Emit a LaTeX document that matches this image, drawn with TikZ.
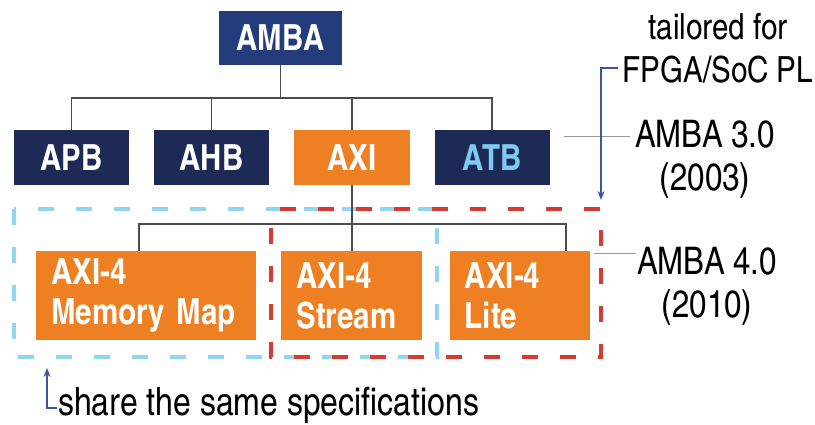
\documentclass[tikz,border=0pt]{standalone}
\usepackage{fontspec}
\setmainfont{texgyreheroscn}[Extension=.otf, UprightFont=*-regular, BoldFont=*-bold]
\usetikzlibrary{positioning, arrows.meta}

\definecolor{ambanavy}{HTML}{243B7C}
\definecolor{busnavy}{HTML}{1E2A56}
\definecolor{axiorange}{HTML}{EE7F22}
\definecolor{atbblue}{HTML}{7FCBEF}
\definecolor{specred}{HTML}{D93A2F}
\definecolor{speccyan}{HTML}{92D5F2}
\definecolor{notearrow}{HTML}{3A56A5}

\newcommand\subboxfont{\fontsize{36}{40}\selectfont\bfseries\spaceskip 0.22em\relax}

\begin{document}
\begin{tikzpicture}[x=1pt, y=-1pt, node distance=24pt and 24.5pt]
	% ----- Styles -----
	\tikzset{
		busbox/.style={
			rectangle, inner sep=0pt, text=white,
			minimum width=115pt, minimum height=55pt,
			font=\fontsize{36}{40}\selectfont\bfseries
		},
		rootbox/.style={busbox, fill=ambanavy, minimum width=123pt, minimum height=54pt},
		navybox/.style={busbox, fill=busnavy},
		axibox/.style={busbox, fill=axiorange, minimum width=116pt},
		subbox/.style={
			rectangle, inner xsep=15pt, inner ysep=0pt, fill=axiorange, text=white,
			minimum height=89pt, align=left, font=\subboxfont
		},
		note/.style={align=center, inner sep=0pt, font=\fontsize{38}{43}\selectfont},
		link/.style={draw=black!70, line width=1.6pt},
		guide/.style={draw=black!40, line width=1pt},
		pointer/.style={draw=notearrow, line width=2pt, -{Stealth[length=9pt, width=7pt]}},
		cyandash/.style={draw=speccyan, line width=3.5pt, dash pattern=on 16pt off 22pt},
		reddash/.style={draw=specred, line width=3.5pt, dash pattern=on 16pt off 22pt, dash phase=19pt}
	}
	\useasboundingbox (0,0) rectangle (815,424);

	% ----- Frames -----
	\coordinate (cyanNW) at (14,209);
	\coordinate (cyanSE) at (437,357);
	\coordinate (redNW)  at (271,209);
	\coordinate (redSE)  at (601,357);
	\draw[cyandash] (cyanNW) rectangle (cyanSE);
	\draw[reddash]  (redNW) rectangle (redSE);

	% ----- Nodes -----
	\node (amba) [rootbox] at (280.5,38) {AMBA};
	\node (apb)  [navybox] at (71.5,157.5) {APB};
	\node (ahb)  [navybox, right=of apb] {AHB};
	\node (axi)  [axibox, right=of ahb] {AXI};
	\node (atb)  [navybox, right=of axi, text=atbblue] {ATB};

	\node (mm)     [subbox, text width=190pt] at (146,295.5) {AXI-4\\Memory Map};
	\node (stream) [subbox, text width=111pt, right=25pt of mm] {AXI-4\\Stream};
	\node (lite)   [subbox, text width=110pt, right=27pt of stream] {AXI-4\\Lite};

	\node (tailored) [note, font=\fontsize{36}{43}\selectfont] at (718,48) {tailored for\\FPGA/SoC PL};
	\node (v3)       [note] at (705,159) {AMBA 3.0\\(2003)};
	\node (v4)       [note] at (707,286) {AMBA 4.0\\(2010)};
	\node (share)    [note, font=\fontsize{39}{43}\selectfont, anchor=base west] at (58,415) {share the same specifications};

	% ----- Connectors -----
	\draw[link] (amba.south) -- ++(0,33) coordinate (hub);
	\foreach \t in {apb, ahb, axi, atb}{
		\draw[link] (hub) -| (\t.north);
	}
	\draw[link] (axi.south) -- (axi.south |- stream.north);
	\path (axi.south) ++(0,39) coordinate (subhub);
	\draw[link] ([xshift=-7pt]mm.north) |- (subhub) -| ([xshift=46pt]lite.north);

	% version guides
	\draw[guide] ([shift={(14,-21.5)}]atb.east) -- +(66,0);
	\draw[guide] ([shift={(4,-42.5)}]lite.east) -- +(42,0);

	% pointers
	\draw[pointer] ([shift={(-5,20)}]tailored.west) -| ([yshift=9pt]redSE |- redNW);
	\draw[pointer] ([shift={(-1,3)}]share.west) -| ([shift={(33,11)}]cyanNW |- cyanSE);
\end{tikzpicture}
\end{document}
